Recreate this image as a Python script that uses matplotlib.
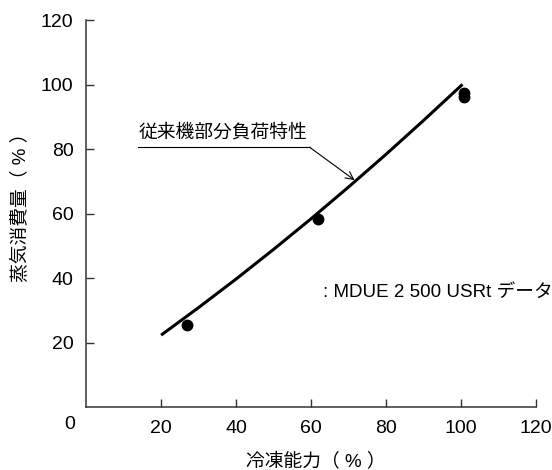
import matplotlib
matplotlib.use("Agg")
import matplotlib.pyplot as plt

plt.rcParams['font.family'] = ['Liberation Sans', 'Noto Sans CJK JP', 'DejaVu Sans']

# ====== DATOS ======
curve_x = [20, 30, 40, 50, 60, 70, 80, 90, 100.4]
curve_y = [22.3, 30.85, 39.7, 48.9, 58.4, 68.25, 78.4, 88.9, 100.1]

data_x = [26.9, 61.9, 100.9, 100.9]
data_y = [25.4, 58.2, 97.3, 96.1]

ticks = [20, 40, 60, 80, 100, 120]
curve_label = "従来機部分負荷特性"
data_label = ": MDUE 2 500 USRt データ"
xlabel = "冷凍能力（ % ）"
ylabel = "蒸気消費量（ % ）"

# ====== FIGURA ======
fig = plt.figure(figsize=(5.52, 4.70), dpi=100)
ax = fig.add_axes([0.156, 0.134, 0.815, 0.823])

ax.plot(curve_x, curve_y, color='black', linewidth=2.2, solid_capstyle='butt',
        solid_joinstyle='round')
ax.plot(data_x, data_y, 'o', color='black', markersize=7.5)

ax.set_xlim(0, 120)
ax.set_ylim(0, 120)
ax.set_xticks(ticks)
ax.set_yticks(ticks)
ax.tick_params(direction='in', length=6, width=1, color='#333333',
               labelsize=14, pad=9)
for side in ['top', 'right']:
    ax.spines[side].set_visible(False)
for side in ['left', 'bottom']:
    ax.spines[side].set_linewidth(1.1)
    ax.spines[side].set_color('#333333')

# origen compartido
ax.text(-4.3, -5.5, "0", fontsize=14, ha='center', va='center', clip_on=False)

# anotación de la curva
ax.text(13.9, 85, curve_label, fontsize=13.5, ha='left', va='center')
ax.plot([13.9, 59.6], [80.6, 80.6], color='black', linewidth=0.8)
ax.annotate("", xy=(71.6, 70.4), xytext=(59.6, 80.6),
            arrowprops=dict(arrowstyle='->', color='black', lw=0.8,
                            shrinkA=0, shrinkB=0, mutation_scale=14))

ax.text(63.2, 35.7, data_label, fontsize=13.5, ha='left', va='center',
        clip_on=False)

fig.text(316 / 552, 1 - 462 / 470, xlabel, fontsize=13.5, ha='center', va='center')
fig.text(20 / 552, 1 - 203 / 470, ylabel, fontsize=13.5, ha='center', va='center',
         rotation=90)

fig.savefig('out.png', dpi=100)
